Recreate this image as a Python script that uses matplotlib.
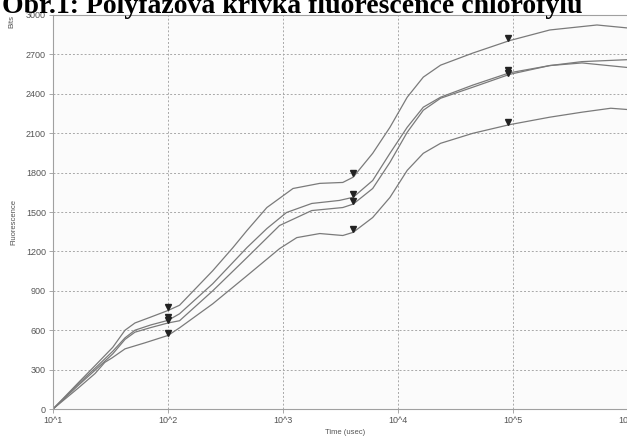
import matplotlib
matplotlib.use('Agg')
import matplotlib.pyplot as plt
import numpy as np

# curve data: time in usec, fluorescence in bits
t_a = [10, 16.6, 23.2, 33.1, 42.3, 51.6, 70.8, 100, 126, 245, 367, 486, 724, 1222, 2089, 3311, 4074,
       6026, 8511, 12023, 16596, 23442, 44668, 93325, 208930, 537032, 1e6]
f_a = [0, 200, 330, 470, 600, 655, 700, 750, 790, 1053, 1229, 1359, 1534, 1679, 1718, 1725, 1765,
       1947, 2145, 2374, 2527, 2618, 2710, 2805, 2886, 2924, 2901]

t_b = [10, 16.6, 23.2, 33.1, 42.3, 51.6, 70.8, 100, 126, 245, 486, 724, 1072, 1778, 3090, 4074,
       6026, 8511, 12023, 16596, 23442, 44668, 93325, 208930, 398107, 1e6]
f_b = [0, 190, 310, 440, 542, 600, 640, 675, 725, 954, 1229, 1374, 1496, 1565, 1588, 1612,
       1740, 1947, 2145, 2298, 2374, 2466, 2560, 2615, 2635, 2600]

t_c = [10, 16.6, 23.2, 33.1, 42.3, 51.6, 70.8, 100, 126, 245, 486, 933, 1778, 3311, 4074,
       6026, 8511, 12023, 16596, 23442, 44668, 93325, 208930, 398107, 1e6]
f_c = [0, 180, 295, 420, 530, 585, 620, 655, 672, 900, 1153, 1397, 1511, 1534, 1560,
       1679, 1878, 2107, 2275, 2366, 2450, 2548, 2615, 2645, 2660]

t_d = [10, 16.6, 23.2, 28.2, 32.6, 42.3, 63.1, 100, 126, 245, 486, 933, 1318, 2089, 3311, 4074,
       6026, 8511, 12023, 16596, 23442, 44668, 93325, 208930, 398107, 707946, 1e6]
f_d = [0, 160, 270, 355, 389, 458, 504, 560, 618, 801, 1015, 1221, 1305, 1336, 1321, 1345,
       1458, 1611, 1817, 1947, 2023, 2099, 2165, 2222, 2260, 2290, 2280]

# triangle markers (O-J, J-I, I-P points)
mark_t = [100, 4074, 90000]
mark_a = [779, 1794, 2825]
mark_b = [700, 1634, 2580]
mark_c = [675, 1580, 2562]
mark_d = [580, 1374, 2183]

x_ticks = [10, 100, 1000, 10000, 100000, 1000000]
x_labels = ['10^1', '10^2', '10^3', '10^4', '10^5', '10^6']
y_ticks = list(range(0, 3001, 300))

plt.rcParams['font.family'] = ['Liberation Sans', 'DejaVu Sans']

fig = plt.figure(figsize=(6.27, 4.36), dpi=100)
ax = fig.add_axes([53 / 627, 27 / 436, 575 / 627, 394 / 436])
ax.set_facecolor('#fbfbfb')

for tt, ff in [(t_a, f_a), (t_b, f_b), (t_c, f_c), (t_d, f_d)]:
    ax.plot(tt, ff, color='#7a7a7a', lw=0.9)
for mm in [mark_a, mark_b, mark_c, mark_d]:
    ax.plot(mark_t, mm, 'v', color='#222222', ms=4.5, ls='none')

ax.set_xscale('log')
ax.set_xlim(10, 1e6)
ax.set_ylim(0, 3000)
ax.set_xticks(x_ticks)
ax.set_xticklabels(x_labels)
ax.minorticks_off()
ax.set_yticks(y_ticks)
ax.tick_params(labelsize=6.5, colors='#9a9a9a', labelcolor='#555555', length=3, width=0.6, pad=2)
ax.grid(True, color='#a8a8a8', ls=(0, (2, 2)), lw=0.7)

for s in ['left', 'bottom', 'top']:
    ax.spines[s].set_color('#a0a0a0')
    ax.spines[s].set_linewidth(0.8)
ax.spines['right'].set_visible(False)

fig.text(14 / 627, 1 - 222 / 436, 'Fluorescence', rotation=90, fontsize=5.5, color='#555555',
         ha='center', va='center')
fig.text(12 / 627, 1 - 22 / 436, 'Bits', rotation=90, fontsize=5.5, color='#555555',
         ha='center', va='center')
fig.text(345 / 627, 1 - 432 / 436, 'Time (usec)', fontsize=5.5, color='#555555',
         ha='center', va='center')

fig.text(2 / 627, 1 - 13 / 436, 'Obr.1: Polyfázová křivka fluorescence chlorofylu',
         family=['Liberation Serif', 'DejaVu Serif'], fontweight='bold', fontsize=20,
         ha='left', va='baseline', color='black')

plt.savefig('out.png', dpi=100)
